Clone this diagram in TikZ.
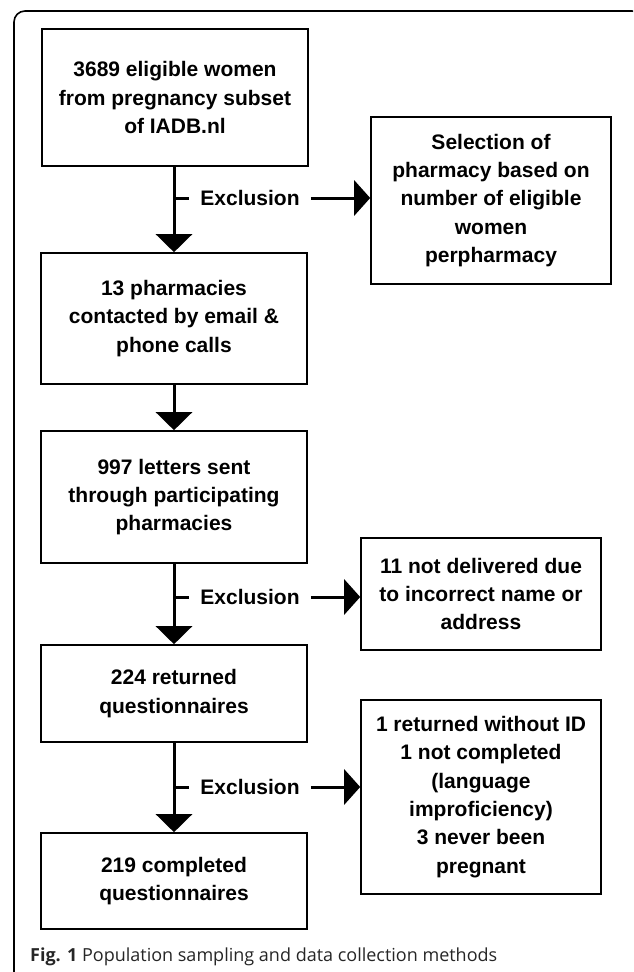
\documentclass[tikz,border=0pt]{standalone}
\usepackage{fontspec}
\setmainfont{Liberation Sans}
\newfontfamily\captionfont{Open Sans}
\usepackage{tikz}
\usetikzlibrary{
  arrows.meta,
  positioning,
  calc
}
\tikzset{
  flowarrow/.style = {-{Triangle[width=36pt, length=18pt]}, line width=3pt},
  sidearrow/.style = {-{Triangle[width=35pt, length=16pt]}, line width=3pt},
  flowbox/.style   = {draw, line width=1.6pt, fill=white, align=center,
                      minimum width=266pt, inner sep=0pt,
                      font=\fontsize{21}{28.3}\selectfont\bfseries},
  sidebox/.style   = {draw, line width=1.6pt, fill=white, align=center,
                      minimum width=240pt, inner sep=0pt,
                      font=\fontsize{21}{28.3}\selectfont\bfseries},
  exclabel/.style  = {inner sep=0pt, font=\fontsize{21}{25}\selectfont\bfseries},
}

\begin{document}
\begin{tikzpicture}[x=1pt, y=-1pt]

    \useasboundingbox (0,0) rectangle (633,972);
    \clip (0,0) rectangle (633,972);

    % outer frame
    \draw[line width=1.6pt, rounded corners=11pt] (14,11) rectangle (643,990);

    % Main column
    \node[flowbox, minimum height=137pt] (women) at (175,97.5)
        {3689 eligible women\\from pregnancy subset\\of IADB.nl};
    \node[flowbox, minimum height=131pt] (contact) at (174,318.5)
        {13 pharmacies\\contacted by email \&\\phone calls};
    \node[flowbox, minimum height=132pt] (letters) at (174,497)
        {997 letters sent\\through participating\\pharmacies};
    \node[flowbox, minimum height=97pt] (returned) at (174,693.5)
        {224 returned\\questionnaires};
    \node[flowbox, minimum height=96pt] (completed) at (174,881)
        {219 completed\\questionnaires};

    % Side boxes
    \node[sidebox, minimum height=167pt] (select) at (491,200.5)
        {Selection of\\pharmacy based on\\number of eligible\\women\\perpharmacy};
    \node[sidebox, minimum height=112pt] (notdel) at (481,594)
        {11 not delivered due\\to incorrect name or\\address};
    \node[sidebox, minimum height=194pt] (noid) at (481,797)
        {1 returned without ID\\1 not completed\\(language\\improficiency)\\3 never been\\pregnant};

    % Exclusion labels
    \node[exclabel] (ex1) at (250,198) {Exclusion};
    \node[exclabel] (ex2) at (250,597) {Exclusion};
    \node[exclabel] (ex3) at (250,787) {Exclusion};

    % Downward arrows
    \draw[flowarrow] (women.south -| contact.north) -- (contact.north);
    \draw[flowarrow] (contact.south) -- (letters.north);
    \draw[flowarrow] (letters.south) -- (returned.north);
    \draw[flowarrow] (returned.south) -- (completed.north);

    % Exclusion ticks and side arrows
    \draw[line width=3pt] (ex1.west -| contact.north) -- ([xshift=-11pt]ex1.west);
    \draw[sidearrow] ([xshift=11pt]ex1.east) -- (ex1.east -| select.west);
    \draw[line width=3pt] (ex2.west -| letters.south) -- ([xshift=-11pt]ex2.west);
    \draw[sidearrow] ([xshift=11pt]ex2.east) -- (ex2.east -| notdel.west);
    \draw[line width=3pt] (ex3.west -| returned.south) -- ([xshift=-11pt]ex3.west);
    \draw[sidearrow] ([xshift=11pt]ex3.east) -- (ex3.east -| noid.west);

    % Caption
    \node[anchor=west, inner sep=0pt, text=black!85,
          font=\captionfont\fontsize{18}{22}\selectfont] (caption) at (30,957)
        {\textbf{Fig. 1} Population sampling and data collection methods};

\end{tikzpicture}
\end{document}
